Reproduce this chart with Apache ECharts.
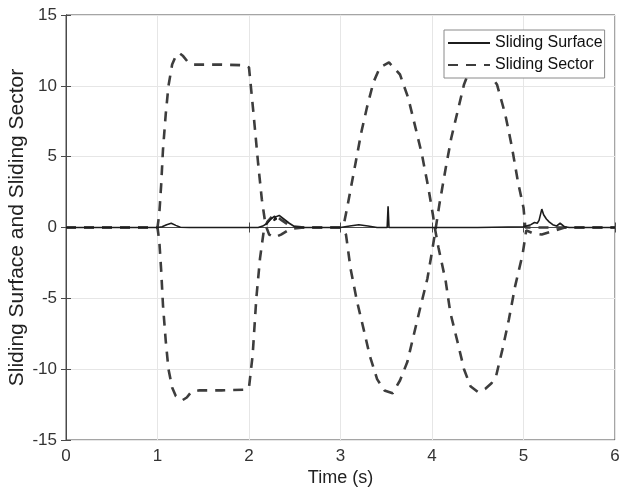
<!DOCTYPE html>
<html>
<head>
<meta charset="utf-8">
<script src="https://cdn.jsdelivr.net/npm/echarts@6/dist/echarts.min.js"></script>
<style>
html,body{margin:0;padding:0;background:#fff;}
#chart{width:625px;height:495px;}
</style>
</head>
<body>
<div id="chart"></div>
<script>
// ---- data ----
const xTicks = [0, 1, 2, 3, 4, 5, 6];
const yTicks = [-15, -10, -5, 0, 5, 10, 15];

const surfaceT = [0, 0.5, 1.0, 1.05, 1.1, 1.15, 1.2, 1.25, 1.35, 1.37, 1.39, 2.0, 2.1, 2.15, 2.2, 2.24, 2.28, 2.3, 2.27, 2.29, 2.33, 2.38, 2.44, 2.5, 2.6, 3.0, 3.1, 3.2, 3.3, 3.4, 3.51, 3.52, 3.53, 3.54, 3.6, 4.0, 4.5, 5.0, 5.08, 5.12, 5.15, 5.17, 5.2, 5.22, 5.25, 5.28, 5.32, 5.36, 5.4, 5.45, 5.5, 6.0];
const surfaceV = [0, 0, 0, 0.05, 0.2, 0.3, 0.15, 0.02, 0, 0.1, 0, 0, 0, 0.1, 0.3, 0.6, 0.8, 0.6, 0.5, 0.75, 0.85, 0.6, 0.3, 0.05, 0, 0, 0.1, 0.2, 0.1, 0, 0, 1.5, 0, 0, 0, 0, 0, 0.05, 0.2, 0.35, 0.3, 0.5, 1.3, 0.9, 0.6, 0.4, 0.2, 0.1, 0.3, 0.05, 0, 0];

const sectorUpT = [0, 0.5, 1.0, 1.02, 1.04, 1.06, 1.09, 1.12, 1.16, 1.2, 1.24, 1.28, 1.33, 1.4, 1.7, 1.95, 2.0, 2.05, 2.1, 2.14, 2.18, 2.22, 2.28, 2.35, 2.45, 2.6, 3.0, 3.04, 3.07, 3.16, 3.23, 3.29, 3.36, 3.43, 3.53, 3.65, 3.74, 3.81, 3.89, 3.96, 4.01, 4.03, 4.07, 4.15, 4.2, 4.28, 4.35, 4.42, 4.5, 4.58, 4.65, 4.7, 4.77, 4.84, 4.91, 4.99, 5.03, 5.1, 5.2, 5.3, 5.45, 5.6, 6.0];
const sectorUpV = [0, 0, 0, 1, 3, 5.5, 8, 10, 11.5, 12.1, 12.3, 12.1, 11.7, 11.5, 11.5, 11.45, 11.3, 8, 4.5, 2, 0.2, -0.5, -0.7, -0.5, -0.1, 0, 0, 0.35, 1.3, 4.4, 6.8, 8.5, 10.25, 11.3, 11.65, 10.8, 9.15, 7.3, 5.15, 2.8, 0.9, 0, -1.4, -3.8, -6, -8.1, -10, -11.2, -11.6, -11.4, -11.0, -10.5, -8.6, -6.5, -4.1, -1.9, -0.2, -0.4, -0.5, -0.3, 0, 0, 0];

const sectorLowT = [0, 0.5, 1.0, 1.02, 1.04, 1.06, 1.09, 1.12, 1.16, 1.2, 1.27, 1.32, 1.37, 1.45, 1.7, 1.95, 2.0, 2.04, 2.08, 2.12, 2.16, 2.2, 2.25, 2.3, 2.36, 2.45, 2.6, 3.0, 3.06, 3.11, 3.18, 3.25, 3.32, 3.4, 3.48, 3.57, 3.65, 3.73, 3.8, 3.87, 3.95, 4.0, 4.03, 4.08, 4.15, 4.21, 4.28, 4.35, 4.41, 4.47, 4.54, 4.62, 4.71, 4.8, 4.87, 4.94, 5.0, 5.02, 5.1, 5.3, 6.0];
const sectorLowV = [0, 0, 0, -1, -3, -5.5, -8, -10, -11.3, -11.9, -12.2, -12, -11.6, -11.5, -11.5, -11.45, -11.3, -9, -5, -2.2, -0.3, 0.4, 0.75, 0.8, 0.5, 0.1, 0, 0, -0.5, -2.9, -5.2, -7.1, -9.05, -10.7, -11.5, -11.7, -10.8, -9.5, -7.6, -5.7, -3.6, -1.7, -0.5, 1.6, 4.2, 6.3, 8.2, 10.1, 11.1, 11.5, 11.3, 10.9, 10.1, 8, 5.8, 3.2, 1.4, 0, 0, 0, 0];

const zip = (t, v) => t.map((x, i) => [x, v[i]]);
const FONT = 'Liberation Sans, Arial, sans-serif';

const chart = echarts.init(document.getElementById('chart'));
const dashStyle = { color: '#3d3d3d', width: 2.6, type: [10, 8] };
const axisCol = '#4a4a4a';

chart.setOption({
  animation: false,
  backgroundColor: '#fff',
  grid: { left: 66, right: 10, top: 15, bottom: 55, containLabel: false, outerBoundsMode: 'none',
          show: true, borderColor: axisCol, borderWidth: 1, backgroundColor: 'transparent' },
  legend: {
    orient: 'vertical',
    left: 444, top: 30,
    data: ['Sliding Surface', 'Sliding Sector'],
    backgroundColor: '#fff',
    borderColor: '#8a8a8a', borderWidth: 1,
    padding: [5, 2, 5, 3],
    itemGap: 6,
    itemWidth: 42, itemHeight: 16,
    itemStyle: { opacity: 0 },
    textStyle: { fontFamily: FONT, fontSize: 16, color: '#111' }
  },
  xAxis: [{
    type: 'value', min: 0, max: 6, interval: 1,
    name: 'Time (s)', nameLocation: 'middle', nameGap: 29, nameMoveOverlap: false,
    nameTextStyle: { fontFamily: FONT, fontSize: 18, color: '#222' },
    axisLine: { show: true, lineStyle: { color: axisCol } },
    axisTick: { show: true, inside: true, length: 5, lineStyle: { color: axisCol } },
    axisLabel: { fontFamily: FONT, fontSize: 17, color: '#333', margin: 8, formatter: v => xTicks.includes(v) ? String(v) : '' },
    splitLine: { show: true, lineStyle: { color: '#e6e6e6' } }
  }, {
    type: 'value', min: 0, max: 6, interval: 1, position: 'top',
    axisLine: { show: true, lineStyle: { color: axisCol } },
    axisTick: { show: true, inside: true, length: 5, lineStyle: { color: axisCol } },
    axisLabel: { show: false }, splitLine: { show: false }
  }],
  yAxis: [{
    type: 'value', min: -15, max: 15, interval: 5,
    name: 'Sliding Surface and Sliding Sector', nameLocation: 'middle', nameGap: 38, nameMoveOverlap: false,
    nameTextStyle: { fontFamily: FONT, fontSize: 21, color: '#222' },
    axisLine: { show: true, lineStyle: { color: axisCol } },
    axisTick: { show: true, inside: true, length: 5, lineStyle: { color: axisCol } },
    axisLabel: { fontFamily: FONT, fontSize: 17, color: '#333', margin: 9, formatter: v => yTicks.includes(v) ? String(v) : '' },
    splitLine: { show: true, lineStyle: { color: '#e6e6e6' } }
  }, {
    type: 'value', min: -15, max: 15, interval: 5, position: 'right',
    axisLine: { show: true, lineStyle: { color: axisCol } },
    axisTick: { show: true, inside: true, length: 5, lineStyle: { color: axisCol } },
    axisLabel: { show: false }, splitLine: { show: false }
  }],
  series: [
    { name: 'Sliding Surface', type: 'line', symbol: 'none', data: zip(surfaceT, surfaceV),
      lineStyle: { color: '#1c1c1c', width: 1.6 }, itemStyle: { color: '#1c1c1c' }, z: 3 },
    { name: 'Sliding Sector', type: 'line', symbol: 'none', data: zip(sectorUpT, sectorUpV),
      lineStyle: dashStyle, itemStyle: { color: '#3d3d3d' }, z: 2 },
    { name: 'Sliding Sector', type: 'line', symbol: 'none', data: zip(sectorLowT, sectorLowV),
      lineStyle: dashStyle, itemStyle: { color: '#3d3d3d' }, z: 2 }
  ]
});
</script>
</body>
</html>
